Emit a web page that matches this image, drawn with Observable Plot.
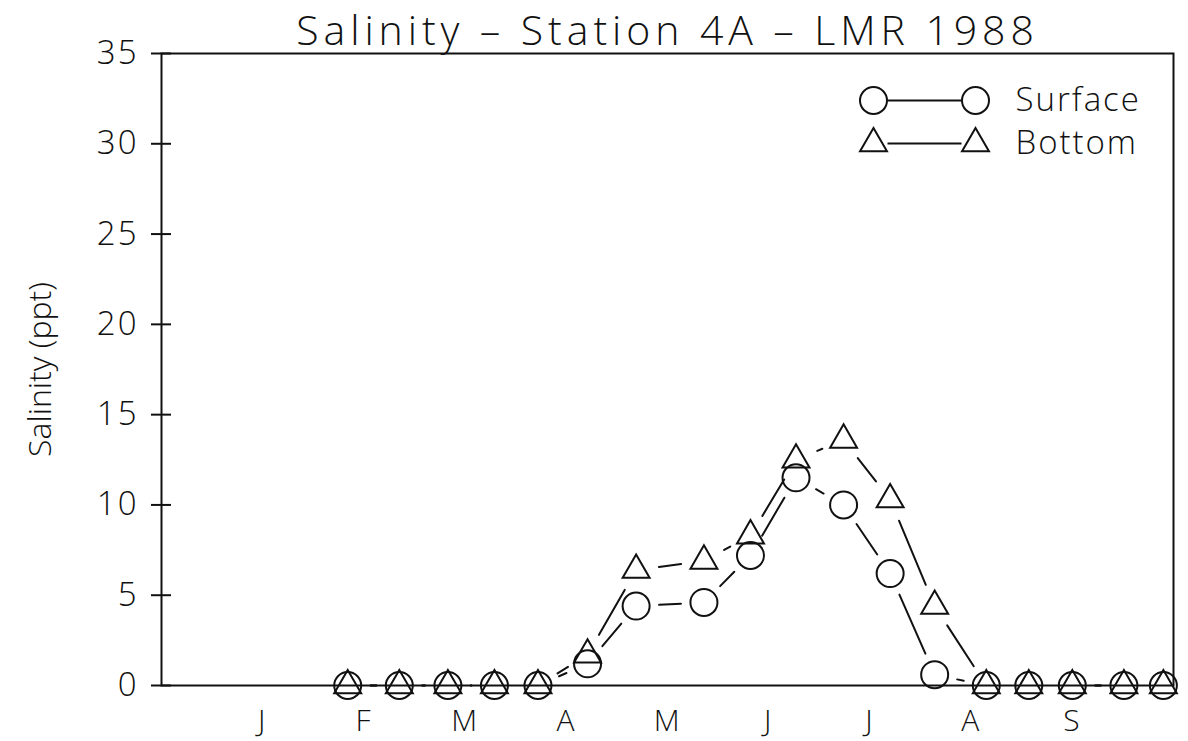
<!DOCTYPE html>
<html>
<head>
<meta charset="utf-8">
<script src="https://cdn.jsdelivr.net/npm/d3@7"></script>
<script src="https://cdn.jsdelivr.net/npm/@observablehq/plot@0.6"></script>
<style>
  html, body { margin: 0; padding: 0; background: #fff; }
  #chart svg { display: block; }
  #chart svg text { letter-spacing: 0.06em; }
</style>
</head>
<body>
<div id="chart"></div>
<script>
// ---- data ----
const title = "Salinity – Station 4A – LMR 1988";
const yLabel = "Salinity (ppt)";
const monthTicks = [1, 2, 3, 4, 5, 6, 7, 8, 9];
const monthLabels = ["J", "F", "M", "A", "M", "J", "J", "A", "S"];
const yTicks = [0, 5, 10, 15, 20, 25, 30, 35];
// sampling positions in month units (1 = J ... 9 = S)
const sampleX = [1.84, 2.35, 2.83, 3.29, 3.72, 4.21, 4.69, 5.36, 5.82, 6.27, 6.74, 7.20, 7.64, 8.15, 8.57, 9.00, 9.51, 9.90];
const surface = [0, 0, 0, 0, 0, 1.2, 4.4, 4.6, 7.2, 11.5, 10.0, 6.2, 0.6, 0, 0, 0, 0, 0];
const bottom  = [0, 0, 0, 0, 0, 1.7, 6.4, 6.9, 8.3, 12.5, 13.6, 10.3, 4.4, 0, 0, 0, 0, 0];
const seriesNames = ["Surface", "Bottom"];
const seriesSymbols = ["circle", "triangle"];

// ---- derived tables ----
const rows = (vals) => sampleX.map((x, i) => ({x, y: vals[i]}));
const segs = (vals) => sampleX.slice(1).map((x, i) => ({x1: sampleX[i], y1: vals[i], x2: x, y2: vals[i + 1]}));
const seriesVals = [surface, bottom];

const INK = "#111";
const legendLine = {draw(ctx) { ctx.moveTo(-37, 0); ctx.lineTo(37, 0); }};

const legendMarks = seriesNames.flatMap((name, k) => {
  const dy = 47 + k * 43;
  const sym = seriesSymbols[k];
  const r = sym === "circle" ? 13.5 : 10;
  return [
    Plot.dot([name], {frameAnchor: "top-right", dx: -300, dy, symbol: sym, r, stroke: INK, strokeWidth: 2, fill: "none"}),
    Plot.dot([name], {frameAnchor: "top-right", dx: -249, dy, symbol: legendLine, r: 1, stroke: INK, strokeWidth: 2, fill: "none"}),
    Plot.dot([name], {frameAnchor: "top-right", dx: -198, dy, symbol: sym, r, stroke: INK, strokeWidth: 2, fill: "none"}),
    Plot.text([name], {frameAnchor: "top-right", dx: -158, dy, text: d => d, textAnchor: "start", lineAnchor: "middle", fontSize: 33, fill: INK})
  ];
});

const chart = Plot.plot({
  width: 1188,
  height: 741,
  marginLeft: 161,
  marginRight: 15,
  marginTop: 53,
  marginBottom: 56,
  style: {fontFamily: "'Open Sans', Lato, sans-serif", fontWeight: 300, background: "#fff", color: INK},
  x: {domain: [0, 10]},
  y: {domain: [0, 35]},
  marks: [
    Plot.frame({stroke: INK, strokeWidth: 2}),
    Plot.axisY(yTicks, {tickSize: 20, dx: 10, tickPadding: 13, fontSize: 33, strokeWidth: 2, label: null}),
    Plot.axisX(monthTicks, {tickSize: 0, tickPadding: 24, fontSize: 30, label: null,
      tickFormat: d => monthLabels[monthTicks.indexOf(d)]}),
    Plot.text([title], {frameAnchor: "top", dy: -22, lineAnchor: "middle", text: d => d, fontSize: 41, fill: INK}),
    Plot.text([yLabel], {frameAnchor: "left", dx: -121, rotate: -90, textAnchor: "middle", lineAnchor: "middle", text: d => d, fontSize: 32, fill: INK}),
    ...seriesVals.map(v => Plot.arrow(segs(v), {x1: "x1", y1: "y1", x2: "x2", y2: "y2", inset: 23, headLength: 0, stroke: INK, strokeWidth: 2})),
    Plot.dot(rows(bottom), {x: "x", y: "y", symbol: "triangle", r: 10, stroke: INK, strokeWidth: 2, fill: "none"}),
    Plot.dot(rows(surface), {x: "x", y: "y", symbol: "circle", r: 13.5, stroke: INK, strokeWidth: 2, fill: "none"}),
    ...legendMarks
  ]
});
document.getElementById("chart").appendChild(chart);
// tracking tweaks to match the reference lettering
d3.select(chart).selectAll("text").filter(function() { return this.textContent === title; })
  .style("letter-spacing", "0.12em");
d3.select(chart).selectAll("text").filter(function() { return this.textContent === yLabel; })
  .style("letter-spacing", "0");
</script>
</body>
</html>
